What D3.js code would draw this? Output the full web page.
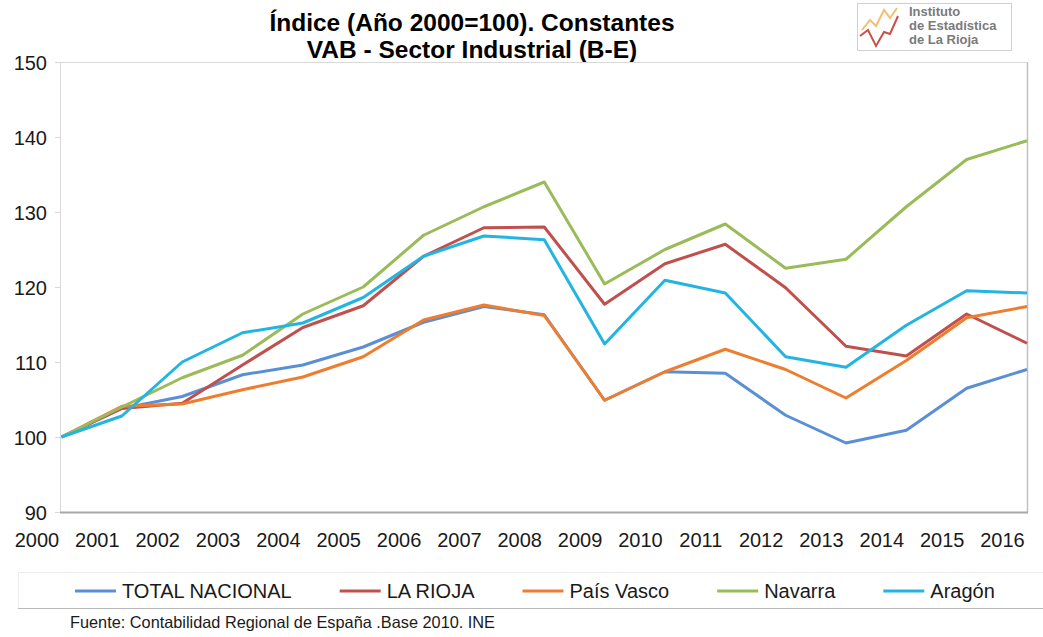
<!DOCTYPE html>
<html>
<head>
<meta charset="utf-8">
<script src="https://cdn.jsdelivr.net/npm/d3@7/dist/d3.min.js"></script>
<style>
  html, body { margin: 0; padding: 0; background: #fff; }
  svg { display: block; font-family: "Liberation Sans", Arial, sans-serif; }
</style>
</head>
<body>
<svg id="chart" width="1043" height="637"></svg>
<script>
const years = ["2000","2001","2002","2003","2004","2005","2006","2007","2008","2009","2010","2011","2012","2013","2014","2015","2016"];
const totalNacional = [100, 103.8, 105.4, 108.3, 109.6, 112.0, 115.3, 117.4, 116.3, 104.9, 108.7, 108.5, 102.9, 99.2, 100.9, 106.5, 109.0];
const laRioja      = [100, 103.8, 104.5, 109.6, 114.6, 117.5, 124.1, 127.9, 128.0, 117.7, 123.1, 125.7, 119.9, 112.1, 110.8, 116.4, 112.5];
const paisVasco    = [100, 104.1, 104.4, 106.3, 108.0, 110.7, 115.6, 117.6, 116.2, 104.9, 108.7, 111.7, 109.0, 105.2, 110.2, 115.9, 117.4];
const navarra      = [100, 104.0, 107.9, 110.9, 116.4, 120.0, 126.9, 130.7, 134.0, 120.4, 125.0, 128.4, 122.5, 123.7, 130.7, 137.0, 139.5];
const aragon       = [100, 102.8, 110.0, 113.9, 115.2, 118.6, 124.1, 126.8, 126.3, 112.4, 120.9, 119.2, 110.7, 109.3, 114.9, 119.5, 119.2];
const seriesNames  = ["TOTAL NACIONAL", "LA RIOJA", "País Vasco", "Navarra", "Aragón"];
const seriesColors = ["#5b8fd5", "#c0504d", "#ee7d2f", "#9bbb59", "#22b4e2"];
const yTicks = [90, 100, 110, 120, 130, 140, 150];
const titleLines = ["Índice (Año 2000=100). Constantes", "VAB - Sector Industrial (B-E)"];
const sourceText = "Fuente: Contabilidad Regional de España .Base 2010. INE";
const logoLines = ["Instituto", "de Estadística", "de La Rioja"];

const seriesValues = [totalNacional, laRioja, paisVasco, navarra, aragon];

const svg = d3.select("#chart");
const plot = { left: 60, right: 1027, top: 62, bottom: 512 };

const x = d3.scalePoint().domain(years).range([61.5, plot.right]);
const y = d3.scaleLinear().domain([90, 150]).range([plot.bottom, plot.top]);

// Title
svg.append("g").selectAll("text").data(titleLines).join("text")
  .attr("x", 472).attr("y", (d, i) => 31 + i * 27)
  .attr("text-anchor", "middle")
  .attr("font-weight", "bold").attr("font-size", 24.5).attr("fill", "#000")
  .text(d => d);

// Logo
const logo = svg.append("g");
logo.append("rect").attr("x", 857.5).attr("y", 3.5).attr("width", 154).attr("height", 47)
  .attr("fill", "#fff").attr("stroke", "#d0d0d0");
logo.append("path").attr("d", "M862,30 L870,20 L876,26 L884,10 L890,18 L897,8")
  .attr("fill", "none").attr("stroke", "#f4c070").attr("stroke-width", 2);
logo.append("path").attr("d", "M860,36 L868,30 L876,46 L884,32 L890,34 L898,16")
  .attr("fill", "none").attr("stroke", "#c8504a").attr("stroke-width", 2);
logo.append("g").selectAll("text").data(logoLines).join("text")
  .attr("x", 909).attr("y", (d, i) => 16 + i * 14)
  .attr("font-size", 13).attr("font-weight", "bold").attr("fill", "#7a7a7a")
  .text(d => d);

// Plot frame
svg.append("line").attr("x1", plot.left).attr("x2", plot.right + 1).attr("y1", plot.top + 0.5).attr("y2", plot.top + 0.5)
  .attr("stroke", "#d9d9d9");
svg.append("line").attr("x1", plot.right + 0.5).attr("x2", plot.right + 0.5).attr("y1", plot.top).attr("y2", plot.bottom)
  .attr("stroke", "#c0c0c0").attr("stroke-width", 1.5);

// Y axis
const yAxis = svg.append("g").attr("transform", `translate(${plot.left},0)`)
  .call(d3.axisLeft(y).tickValues(yTicks).tickSize(5).tickPadding(8).tickFormat(d3.format("d")));
yAxis.select(".domain").attr("stroke", "#d9d9d9");
yAxis.selectAll(".tick line").attr("stroke", "#d9d9d9");
yAxis.selectAll("text").attr("font-size", 20).attr("fill", "#1a1a1a").attr("font-family", "Liberation Sans, Arial, sans-serif").attr("dy", "0.36em");

// X axis
const xAxis = svg.append("g").attr("transform", `translate(0,${plot.bottom})`)
  .call(d3.axisBottom(x).tickSize(0).tickPadding(0));
xAxis.select(".domain").attr("d", `M${plot.left},0.5H${plot.right + 1}`).attr("stroke", "#a8a8a8").attr("stroke-width", 2);
xAxis.selectAll("text").attr("font-size", 20).attr("fill", "#1a1a1a")
  .attr("font-family", "Liberation Sans, Arial, sans-serif")
  .attr("transform", "translate(-25,0)").attr("y", 35).attr("dy", 0);

// Lines
const line = d3.line().x((d, i) => x(years[i])).y(d => y(d));
svg.append("g").selectAll("path").data(seriesValues).join("path")
  .attr("d", d => line(d))
  .attr("fill", "none")
  .attr("stroke", (d, i) => seriesColors[i])
  .attr("stroke-width", 3)
  .attr("stroke-linejoin", "round");

// Legend box
svg.append("rect").attr("x", 18.5).attr("y", 572.5).attr("width", 1030).attr("height", 36)
  .attr("fill", "none").attr("stroke", "#ececec");
svg.append("line").attr("x1", 18).attr("x2", 1043).attr("y1", 608.5).attr("y2", 608.5).attr("stroke", "#b8b8b8");

const legend = svg.append("g");
let lx = 75;
seriesNames.forEach((name, i) => {
  legend.append("line").attr("x1", lx).attr("x2", lx + 41).attr("y1", 591).attr("y2", 591)
    .attr("stroke", seriesColors[i]).attr("stroke-width", 3);
  const t = legend.append("text").attr("x", lx + 47).attr("y", 598)
    .attr("font-size", 20).attr("fill", "#1a1a1a").text(name);
  lx += 47 + t.node().getComputedTextLength() + 48;
});

// Source
svg.append("text").attr("x", 70).attr("y", 628)
  .attr("font-family", "Liberation Sans, Arial, sans-serif")
  .attr("font-size", 16.5).attr("fill", "#1a1a1a")
  .attr("textLength", 425).attr("lengthAdjust", "spacingAndGlyphs")
  .text(sourceText);
</script>
</body>
</html>
